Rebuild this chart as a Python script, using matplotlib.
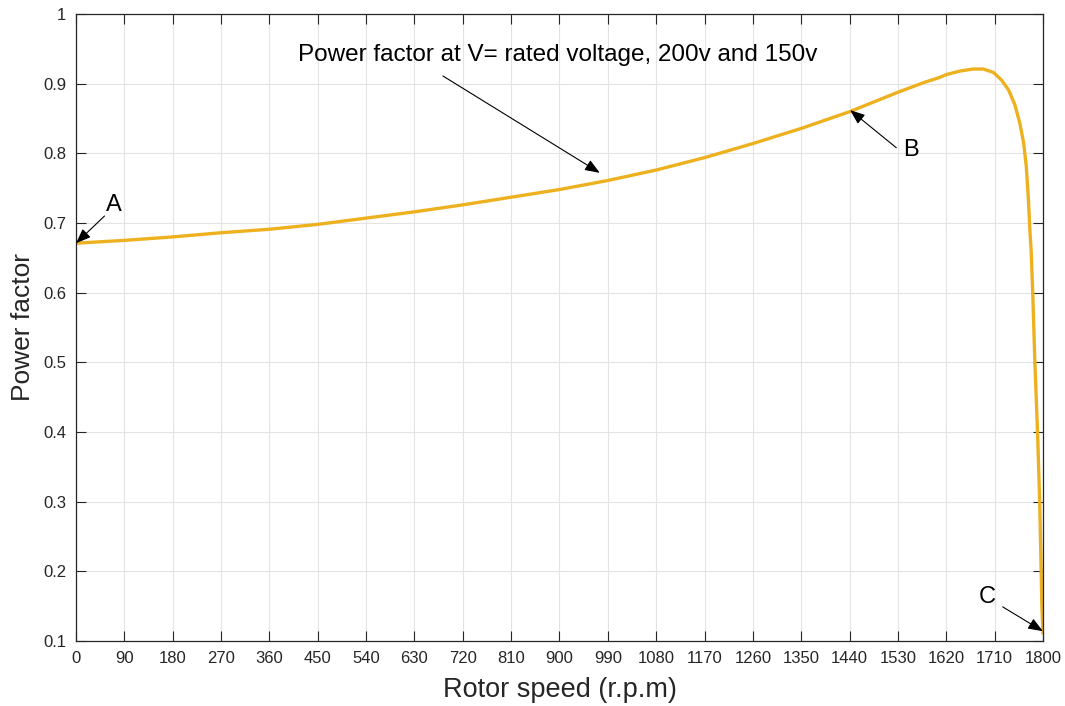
import matplotlib.pyplot as plt
import numpy as np

plt.rcParams['font.family'] = ['Liberation Sans', 'DejaVu Sans']

# speed (rpm) vs power factor
speed = [0, 90, 180, 270, 360, 450, 540, 630, 720, 810, 900, 990, 1080,
         1171, 1260, 1351, 1441, 1531, 1580, 1608, 1620, 1645, 1670, 1689,
         1708, 1723, 1736, 1748, 1757, 1764, 1769, 1773, 1776, 1778, 1781,
         1785, 1790, 1794, 1798, 1800]
pf = [0.671, 0.675, 0.680, 0.686, 0.691, 0.698, 0.707, 0.716, 0.726, 0.737,
      0.748, 0.761, 0.776, 0.794, 0.814, 0.836, 0.860, 0.888, 0.902, 0.909,
      0.913, 0.918, 0.921, 0.921, 0.916, 0.905, 0.891, 0.869, 0.843, 0.815,
      0.781, 0.733, 0.685, 0.661, 0.599, 0.499, 0.398, 0.298, 0.150, 0.112]

xticks = np.arange(0, 1801, 90)
yticks = [0.1, 0.2, 0.3, 0.4, 0.5, 0.6, 0.7, 0.8, 0.9, 1]
ytick_labels = ['0.1', '0.2', '0.3', '0.4', '0.5', '0.6', '0.7', '0.8', '0.9', '1']

fig = plt.figure(figsize=(10.65, 7.06), dpi=100)
ax = fig.add_axes([0.0714, 0.0921, 0.9079, 0.8881])

ax.plot(speed, pf, color='#EDB120', lw=2.4, solid_joinstyle='round')

ax.set_xlim(0, 1800)
ax.set_ylim(0.1, 1)
ax.set_xticks(xticks)
ax.set_yticks(yticks)
ax.set_yticklabels(ytick_labels)
ax.grid(True, color='#e3e3e3', lw=0.8)
ax.set_axisbelow(True)
ax.tick_params(direction='in', length=7, width=0.8, top=True, right=True,
               labelsize=12, colors='#262626', pad=7)
for sp in ax.spines.values():
    sp.set_color('#262626')
    sp.set_linewidth(0.9)

ax.set_xlabel('Rotor speed (r.p.m)', fontsize=19.5, color='#262626', labelpad=8)
ax.set_ylabel('Power factor', fontsize=19, color='#262626', labelpad=6)

arrow = dict(arrowstyle='-|>,head_length=0.9,head_width=0.35', color='black',
             lw=0.8, shrinkA=0, shrinkB=0)

ax.annotate('', xy=(975, 0.772), xytext=(683, 0.911), arrowprops=arrow)
ax.text(413, 0.941, 'Power factor at V= rated voltage, 200v and 150v',
        fontsize=17.5, ha='left', va='center', color='black')

ax.annotate('', xy=(0, 0.671), xytext=(53, 0.71), arrowprops=arrow)
ax.text(70, 0.726, 'A', fontsize=17, ha='center', va='center')

ax.annotate('', xy=(1441, 0.862), xytext=(1527, 0.808), arrowprops=arrow)
ax.text(1554, 0.805, 'B', fontsize=17, ha='center', va='center')

ax.annotate('', xy=(1800, 0.114), xytext=(1725, 0.149), arrowprops=arrow)
ax.text(1696, 0.163, 'C', fontsize=17, ha='center', va='center')

fig.savefig('out.png', dpi=100, facecolor='white')
